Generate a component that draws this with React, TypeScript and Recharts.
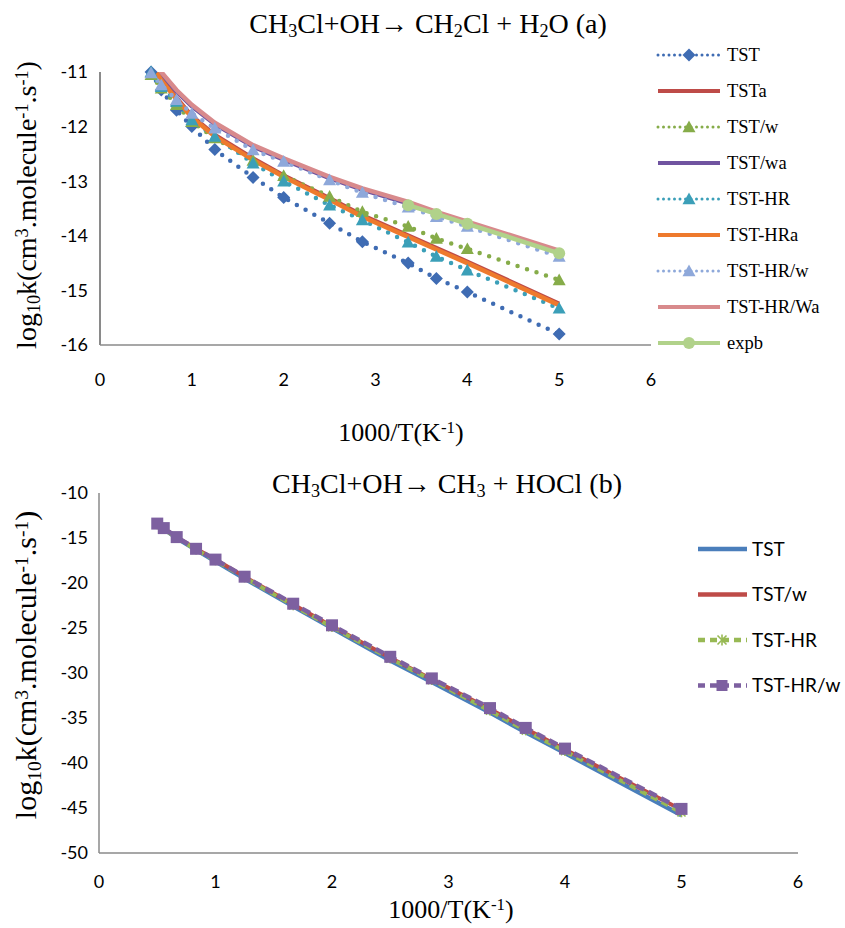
import { LineChart, Line, XAxis, YAxis } from 'recharts';

// ---- chart (a): CH3Cl + OH -> CH2Cl + H2O ----
const X_A = [0.556, 0.667, 0.833, 1.0, 1.25, 1.667, 2.0, 2.5, 2.857, 3.356, 3.663, 4.0, 5.0];
const TST_A = [-11.0, -11.33, -11.7, -12.0, -12.42, -12.93, -13.3, -13.77, -14.11, -14.5, -14.78, -15.03, -15.8];
const TSTa_A = [-10.82, -11.12, -11.47, -11.8, -12.15, -12.58, -12.89, -13.31, -13.62, -13.99, -14.22, -14.47, -15.24];
const TSTw_A = [-11.05, -11.3, -11.6, -11.91, -12.21, -12.62, -12.9, -13.28, -13.56, -13.83, -14.05, -14.24, -14.81];
const TSTwa_A = [-10.81, -11.03, -11.36, -11.63, -11.96, -12.37, -12.61, -12.95, -13.16, -13.41, -13.59, -13.77, -14.3];
const TSTHR_A = [-11.0, -11.27, -11.54, -11.88, -12.18, -12.67, -13.0, -13.44, -13.71, -14.12, -14.38, -14.63, -15.33];
const TSTHRa_A = [-10.85, -11.15, -11.5, -11.83, -12.18, -12.61, -12.92, -13.34, -13.65, -14.02, -14.25, -14.5, -15.27];
const TSTHRw_A = [-11.02, -11.24, -11.51, -11.76, -12.03, -12.43, -12.64, -12.98, -13.21, -13.48, -13.65, -13.83, -14.38];
const TSTHRWa_A = [-10.78, -11.0, -11.33, -11.6, -11.93, -12.34, -12.58, -12.92, -13.13, -13.38, -13.56, -13.74, -14.27];
const EXPB_A = [null, null, null, null, null, null, null, null, null, -13.44, -13.6, -13.78, -14.32];
const XTICKS = [0, 1, 2, 3, 4, 5, 6];
const YTICKS_A = [-16, -15, -14, -13, -12, -11];

// ---- chart (b): CH3Cl + OH -> CH3 + HOCl ----
const X_B = [0.5, 0.556, 0.667, 0.833, 1.0, 1.25, 1.667, 2.0, 2.5, 2.857, 3.356, 3.663, 4.0, 5.0];
const TST_B = [-13.5, -14.0, -15.0, -16.3, -17.6, -19.5, -22.6, -25.0, -28.6, -31.0, -34.4, -36.6, -38.9, -45.8];
const TSTw_B = [-13.4, -13.9, -14.9, -16.2, -17.4, -19.3, -22.4, -24.8, -28.3, -30.7, -34.0, -36.2, -38.5, -45.2];
const TSTHR_B = [-13.5, -14.0, -15.0, -16.3, -17.5, -19.4, -22.5, -24.9, -28.4, -30.8, -34.2, -36.4, -38.7, -45.5];
const TSTHRw_B = [-13.4, -13.9, -14.9, -16.2, -17.4, -19.3, -22.3, -24.7, -28.2, -30.6, -33.9, -36.1, -38.4, -45.1];
const YTICKS_B = [-50, -45, -40, -35, -30, -25, -20, -15, -10];

const C = {
  tst: '#3F6CB3',
  tsta: '#BE4B48',
  tstw: '#86AC49',
  tstwa: '#7054A0',
  hr: '#3B9FB8',
  hra: '#EE7A2D',
  hrw: '#8EA8DA',
  hrwa: '#D88A8C',
  expb: '#B1D28A',
  bBlue: '#4A7EBB',
  bRed: '#BE4B48',
  bGreen: '#98B954',
  bPurple: '#7D60A0',
};

const dataA = X_A.map((x, i) => ({
  x,
  TST: TST_A[i],
  TSTa: TSTa_A[i],
  'TST/w': TSTw_A[i],
  'TST/wa': TSTwa_A[i],
  'TST-HR': TSTHR_A[i],
  'TST-HRa': TSTHRa_A[i],
  'TST-HR/w': TSTHRw_A[i],
  'TST-HR/Wa': TSTHRWa_A[i],
  expb: EXPB_A[i],
}));

const dataB = X_B.map((x, i) => ({
  x,
  TST: TST_B[i],
  'TST/w': TSTw_B[i],
  'TST-HR': TSTHR_B[i],
  'TST-HR/w': TSTHRw_B[i],
}));

const shapePath = (kind: string, cx: number, cy: number, s: number) => {
  if (kind === 'diamond') return `M${cx},${cy - s}L${cx + s},${cy}L${cx},${cy + s}L${cx - s},${cy}Z`;
  if (kind === 'triangle') return `M${cx},${cy - s}L${cx + s},${cy + s * 0.8}L${cx - s},${cy + s * 0.8}Z`;
  if (kind === 'square') return `M${cx - s},${cy - s}h${2 * s}v${2 * s}h${-2 * s}Z`;
  return '';
};

const marker = (kind: string, color: string, s: number) => (p: any) => {
  const k = p.key ?? `d${p.index}`;
  if (p.cx == null || p.cy == null || p.value == null) return <g key={k} />;
  if (kind === 'circle') return <circle key={k} cx={p.cx} cy={p.cy} r={s} fill={color} />;
  if (kind === 'star')
    return (
      <g key={k} stroke={color} strokeWidth={1.6}>
        <line x1={p.cx - s} y1={p.cy - s} x2={p.cx + s} y2={p.cy + s} />
        <line x1={p.cx - s} y1={p.cy + s} x2={p.cx + s} y2={p.cy - s} />
        <line x1={p.cx} y1={p.cy - s * 1.2} x2={p.cx} y2={p.cy + s * 1.2} />
      </g>
    );
  return <path key={k} d={shapePath(kind, p.cx, p.cy, s)} fill={color} />;
};

const DOTTED = '0 10';
const tickStyle = { fill: '#000', fontSize: 18, fontFamily: 'Lato' };
const AXIS_COLOR = '#8a8a8a';
const axisLine = { stroke: AXIS_COLOR, strokeWidth: 1.5 };
const serif = "'Liberation Serif', 'Times New Roman', serif";

const seriesA = [
  { key: 'TST', color: C.tst, dotted: true, mk: 'diamond' },
  { key: 'TSTa', color: C.tsta, dotted: false, mk: '' },
  { key: 'TST/w', color: C.tstw, dotted: true, mk: 'triangle' },
  { key: 'TST/wa', color: C.tstwa, dotted: false, mk: '' },
  { key: 'TST-HR', color: C.hr, dotted: true, mk: 'triangle' },
  { key: 'TST-HRa', color: C.hra, dotted: false, mk: '' },
  { key: 'TST-HR/w', color: C.hrw, dotted: true, mk: 'triangle' },
  { key: 'TST-HR/Wa', color: C.hrwa, dotted: false, mk: '' },
  { key: 'expb', color: C.expb, dotted: false, mk: 'circle' },
];

const legendB = [
  { name: 'TST', color: C.bBlue, dashed: false, mk: '' },
  { name: 'TST/w', color: C.bRed, dashed: false, mk: '' },
  { name: 'TST-HR', color: C.bGreen, dashed: true, mk: 'star' },
  { name: 'TST-HR/w', color: C.bPurple, dashed: true, mk: 'square' },
];

function Legends() {
  return (
    <svg width={845} height={928} style={{ position: 'absolute', left: 0, top: 0, pointerEvents: 'none' }}>
      {seriesA.map((e, i) => {
        const y = 55 + i * 36;
        const mk = e.mk ? marker(e.mk, e.color, e.mk === 'circle' ? 6 : 6.5)({ cx: 689, cy: y, value: 1, key: 'm' }) : null;
        return (
          <g key={e.key}>
            <line
              x1={658}
              x2={720}
              y1={y}
              y2={y}
              stroke={e.color}
              strokeWidth={e.dotted ? 3 : 4}
              strokeDasharray={e.dotted ? '0 5.5' : undefined}
              strokeLinecap={e.dotted ? 'round' : 'butt'}
            />
            {mk}
            <text x={727} y={y} dy="0.35em" style={{ fontFamily: serif, fontSize: 18.5 }} fill="#000">
              {e.key}
            </text>
          </g>
        );
      })}
      {legendB.map((e, i) => {
        const y = 549 + i * 45.5;
        const mk = e.mk ? marker(e.mk, e.color, e.mk === 'star' ? 4.5 : 5.5)({ cx: 722, cy: y, value: 1, key: 'm' }) : null;
        return (
          <g key={e.name}>
            <line
              x1={698}
              x2={747}
              y1={y}
              y2={y}
              stroke={e.color}
              strokeWidth={4.5}
              strokeDasharray={e.dashed ? '7 5' : undefined}
            />
            {mk}
            <text x={752} y={y} dy="0.35em" style={{ fontFamily: 'Lato, sans-serif', fontSize: 19 }} fill="#000">
              {e.name}
            </text>
          </g>
        );
      })}
    </svg>
  );
}

function Label({ x, y, size, rotate, children }: any) {
  return (
    <div
      style={{
        position: 'absolute',
        left: x,
        top: y,
        transform: `translate(-50%, -50%)${rotate ? ' rotate(-90deg)' : ''}`,
        whiteSpace: 'nowrap',
        fontFamily: serif,
        fontSize: size,
        lineHeight: 1,
        color: '#000',
        pointerEvents: 'none',
      }}
    >
      {children}
    </div>
  );
}

const sub = { fontSize: '0.65em', verticalAlign: '-0.25em' };
const sup = { fontSize: '0.65em', verticalAlign: '0.45em' };

const YTitle = () => (
  <>
    log<span style={sub}>10</span>k(cm<span style={sup}>3</span>.molecule<span style={sup}>-1</span>.s<span style={sup}>-1</span>)
  </>
);
const XTitle = () => (
  <>
    1000/T(K<span style={sup}>-1</span>)
  </>
);

export default function App() {
  return (
    <div style={{ position: 'absolute', left: 0, top: 0, width: 845, height: 928, background: '#fff', overflow: 'hidden' }}>
      {/* chart (a): axes and all lines, clipped to the plot area */}
      <div style={{ position: 'absolute', left: 0, top: 0 }}>
        <LineChart width={845} height={460} data={dataA} margin={{ top: 72, right: 194, bottom: 85, left: 40 }}>
          <XAxis
            dataKey="x"
            type="number"
            domain={[0, 6]}
            ticks={XTICKS}
            height={30}
            axisLine={axisLine}
            tickLine={false}
            tickSize={0}
            tickMargin={28}
            tick={tickStyle}
          />
          <YAxis
            type="number"
            domain={[-16, -11]}
            ticks={YTICKS_A}
            allowDataOverflow
            width={60}
            axisLine={axisLine}
            tickLine={false}
            tickSize={0}
            tickMargin={12}
            tick={tickStyle}
          />
          {seriesA.map((s) => (
            <Line
              key={s.key}
              dataKey={s.key}
              stroke={s.color}
              strokeWidth={s.dotted ? 4.5 : s.key === 'TSTa' || s.key === 'TST/wa' ? 4 : 4.5}
              strokeDasharray={s.dotted ? DOTTED : undefined}
              strokeLinecap={s.dotted ? 'round' : 'butt'}
              dot={false}
              connectNulls={false}
              isAnimationActive={false}
            />
          ))}
        </LineChart>
      </div>
      {/* chart (a): markers, same scales, not clipped */}
      <div style={{ position: 'absolute', left: 0, top: 0 }}>
        <LineChart width={845} height={460} data={dataA} margin={{ top: 72, right: 194, bottom: 115, left: 100 }}>
          <XAxis dataKey="x" type="number" domain={[0, 6]} hide />
          <YAxis type="number" domain={[-16, -11]} hide />
          {seriesA
            .filter((s) => s.mk)
            .map((s) => (
              <Line
                key={s.key}
                dataKey={s.key}
                stroke="none"
                dot={marker(s.mk, s.color, s.mk === 'circle' ? 6 : 6.5)}
                isAnimationActive={false}
              />
            ))}
        </LineChart>
      </div>
      <div style={{ position: 'absolute', left: 0, top: 460 }}>
        <LineChart width={845} height={468} data={dataB} margin={{ top: 33, right: 47, bottom: 45, left: 39 }}>
          <XAxis
            dataKey="x"
            type="number"
            domain={[0, 6]}
            ticks={XTICKS}
            height={30}
            axisLine={axisLine}
            tickLine={false}
            tickSize={0}
            tickMargin={22}
            tick={tickStyle}
          />
          <YAxis
            type="number"
            domain={[-50, -10]}
            ticks={YTICKS_B}
            width={60}
            axisLine={axisLine}
            tickLine={false}
            tickSize={0}
            tickMargin={11}
            tick={tickStyle}
          />
          <Line dataKey="TST" stroke={C.bBlue} strokeWidth={4.5} dot={false} isAnimationActive={false} />
          <Line dataKey="TST/w" stroke={C.bRed} strokeWidth={4} dot={false} isAnimationActive={false} />
          <Line dataKey="TST-HR" stroke={C.bGreen} strokeWidth={4} strokeDasharray="7 5" dot={marker('star', C.bGreen, 4)} isAnimationActive={false} />
          <Line dataKey="TST-HR/w" stroke={C.bPurple} strokeWidth={4.5} strokeDasharray="9 5" dot={marker('square', C.bPurple, 6)} isAnimationActive={false} />
        </LineChart>
      </div>
      <Legends />
      <Label x={428} y={25} size={28}>
        CH<span style={sub}>3</span>Cl+OH→ CH<span style={sub}>2</span>Cl + H<span style={sub}>2</span>O (a)
      </Label>
      <Label x={447} y={485} size={28}>
        CH<span style={sub}>3</span>Cl+OH→ CH<span style={sub}>3</span> + HOCl (b)
      </Label>
      <Label x={28} y={205} size={28} rotate>
        <YTitle />
      </Label>
      <Label x={28} y={665} size={30} rotate>
        <YTitle />
      </Label>
      <Label x={401} y={433} size={26}>
        <XTitle />
      </Label>
      <Label x={451} y={910} size={26}>
        <XTitle />
      </Label>
      {/* value axis line of chart (a), kept on top */}
      <div style={{ position: 'absolute', left: 99, top: 72, width: 2, height: 273, background: AXIS_COLOR, zIndex: 10 }} />
    </div>
  );
}
